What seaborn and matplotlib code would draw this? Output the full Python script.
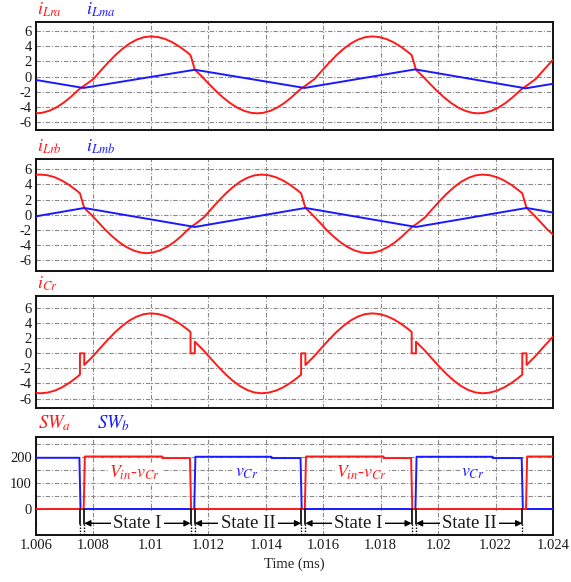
import matplotlib
matplotlib.use("Agg")
import matplotlib.pyplot as plt
import pandas as pd
import seaborn as sns

# ---------------- data ----------------
t_ilra = [1.006, 1.0062, 1.00645, 1.0067, 1.00695, 1.0072, 1.00745, 1.00753,
          1.00768, 1.008, 1.00825, 1.0085, 1.00875, 1.009, 1.00925, 1.0095, 1.00975, 1.01, 1.01025, 1.0105, 1.01075, 1.011, 1.01125, 1.01138,
          1.01153, 1.01175, 1.012, 1.01225, 1.0125, 1.01275, 1.013, 1.01325, 1.0135, 1.0137, 1.0139, 1.01415, 1.0144, 1.01465, 1.0149, 1.01515, 1.01523,
          1.01538, 1.0157, 1.01595, 1.0162, 1.01645, 1.0167, 1.01695, 1.0172, 1.01745, 1.0177, 1.01795, 1.0182, 1.01845, 1.0187, 1.01895, 1.01908,
          1.01923, 1.01945, 1.0197, 1.01995, 1.0202, 1.02045, 1.0207, 1.02095, 1.0212, 1.0214, 1.0216, 1.02185, 1.0221, 1.02235, 1.0226, 1.02285, 1.02293,
          1.02308, 1.0234, 1.02365, 1.0239, 1.024]
ilra = [-4.85, -4.79, -4.53, -4.09, -3.48, -2.72, -1.85, -1.6,
        -1.2, -0.32, 0.76, 1.80, 2.78, 3.63, 4.34, 4.86, 5.19, 5.30, 5.21, 4.95, 4.52, 3.94, 3.24, 2.83,
        0.9, 0.10, -0.89, -1.85, -2.72, -3.48, -4.09, -4.53, -4.79, -4.85, -4.79, -4.53, -4.09, -3.48, -2.72, -1.85, -1.6,
        -1.2, -0.32, 0.76, 1.80, 2.78, 3.63, 4.34, 4.86, 5.19, 5.30, 5.21, 4.95, 4.52, 3.94, 3.24, 2.83,
        0.9, 0.10, -0.89, -1.85, -2.72, -3.48, -4.09, -4.53, -4.79, -4.85, -4.79, -4.53, -4.09, -3.48, -2.72, -1.85, -1.6,
        -1.2, -0.32, 0.76, 1.80, 2.2]

t_ilma = [1.006, 1.00765, 1.01153, 1.01535, 1.0192, 1.02305, 1.024]
ilma = [-0.45, -1.5, 0.9, -1.5, 0.95, -1.55, -0.95]

t_ilrb = [1.006, 1.00615, 1.0064, 1.00665, 1.0069, 1.00715, 1.0074, 1.00753,
          1.00768, 1.0079, 1.00815, 1.0084, 1.00865, 1.0089, 1.00915, 1.0094, 1.00965, 1.00985, 1.01005, 1.0103, 1.01055, 1.0108, 1.01105, 1.0113, 1.01138,
          1.01153, 1.01185, 1.0121, 1.01235, 1.0126, 1.01285, 1.0131, 1.01335, 1.0136, 1.01385, 1.0141, 1.01435, 1.0146, 1.01485, 1.0151, 1.01523,
          1.01538, 1.0156, 1.01585, 1.0161, 1.01635, 1.0166, 1.01685, 1.0171, 1.01735, 1.01755, 1.01775, 1.018, 1.01825, 1.0185, 1.01875, 1.019, 1.01908,
          1.01923, 1.01955, 1.0198, 1.02005, 1.0203, 1.02055, 1.0208, 1.02105, 1.0213, 1.02155, 1.0218, 1.02205, 1.0223, 1.02255, 1.0228, 1.02293,
          1.02308, 1.0233, 1.02355, 1.0238, 1.024]
ilrb = [5.27, 5.30, 5.21, 4.95, 4.52, 3.94, 3.24, 2.83,
        0.9, 0.10, -0.89, -1.92, -2.83, -3.62, -4.25, -4.71, -4.98, -5.05, -4.98, -4.71, -4.25, -3.62, -2.83, -1.92, -1.65,
        -1.25, -0.32, 0.76, 1.80, 2.78, 3.63, 4.34, 4.86, 5.19, 5.30, 5.21, 4.95, 4.52, 3.94, 3.24, 2.83,
        0.9, 0.10, -0.89, -1.92, -2.83, -3.62, -4.25, -4.71, -4.98, -5.05, -4.98, -4.71, -4.25, -3.62, -2.83, -1.92, -1.65,
        -1.25, -0.32, 0.76, 1.80, 2.78, 3.63, 4.34, 4.86, 5.19, 5.30, 5.21, 4.95, 4.52, 3.94, 3.24, 2.83,
        0.9, 0.10, -0.89, -1.92, -2.6]

t_ilmb = [1.006, 1.00768, 1.01153, 1.01538, 1.01923, 1.02308, 1.024]
ilmb = [-0.2, 0.9, -1.6, 0.9, -1.6, 0.9, 0.3]

t_icr = [1.006, 1.00615, 1.0064, 1.00665, 1.0069, 1.00715, 1.0074, 1.00753, 1.00753, 1.00768,
         1.00768, 1.008, 1.00825, 1.0085, 1.00875, 1.009, 1.00925, 1.0095, 1.00975, 1.01, 1.01025, 1.0105, 1.01075, 1.011, 1.01125, 1.01138, 1.01138, 1.01153,
         1.01153, 1.01185, 1.0121, 1.01235, 1.0126, 1.01285, 1.0131, 1.01335, 1.0136, 1.01385, 1.0141, 1.01435, 1.0146, 1.01485, 1.0151, 1.01523, 1.01523, 1.01538,
         1.01538, 1.0157, 1.01595, 1.0162, 1.01645, 1.0167, 1.01695, 1.0172, 1.01745, 1.0177, 1.01795, 1.0182, 1.01845, 1.0187, 1.01895, 1.01908, 1.01908, 1.01923,
         1.01923, 1.01955, 1.0198, 1.02005, 1.0203, 1.02055, 1.0208, 1.02105, 1.0213, 1.02155, 1.0218, 1.02205, 1.0223, 1.02255, 1.0228, 1.02293, 1.02293, 1.02308,
         1.02308, 1.0234, 1.02365, 1.0239, 1.024]
icr = [-5.25, -5.30, -5.21, -4.95, -4.52, -3.94, -3.24, -2.83, 0, 0,
       -1.55, -0.32, 0.76, 1.80, 2.78, 3.63, 4.34, 4.86, 5.19, 5.30, 5.21, 4.95, 4.52, 3.94, 3.24, 2.83, 0, 0,
       1.55, 0.32, -0.76, -1.80, -2.78, -3.63, -4.34, -4.86, -5.19, -5.30, -5.21, -4.95, -4.52, -3.94, -3.24, -2.83, 0, 0,
       -1.55, -0.32, 0.76, 1.80, 2.78, 3.63, 4.34, 4.86, 5.19, 5.30, 5.21, 4.95, 4.52, 3.94, 3.24, 2.83, 0, 0,
       1.55, 0.32, -0.76, -1.80, -2.78, -3.63, -4.34, -4.86, -5.19, -5.30, -5.21, -4.95, -4.52, -3.94, -3.24, -2.83, 0, 0,
       -1.55, -0.32, 0.76, 1.80, 2.2]

t_swa = [1.006, 1.00766, 1.00770, 1.0104, 1.0104, 1.01136, 1.0114, 1.01536, 1.0154, 1.0181, 1.0181, 1.01906, 1.0191, 1.02306, 1.0231, 1.024]
swa = [0, 0, 202, 202, 196, 196, 0, 0, 202, 202, 196, 196, 0, 0, 202, 202]

t_swb = [1.006, 1.00751, 1.00755, 1.01151, 1.01155, 1.0142, 1.0142, 1.01521, 1.01525, 1.01921, 1.01925, 1.0219, 1.0219, 1.02291, 1.02295, 1.024]
swb = [197, 197, 0, 0, 201, 201, 196, 196, 0, 0, 201, 201, 196, 196, 0, 0]

xticks = [1.006, 1.008, 1.010, 1.012, 1.014, 1.016, 1.018, 1.020, 1.022, 1.024]
xtick_labels = ["1.006", "1.008", "1.01", "1.012", "1.014", "1.016", "1.018", "1.02", "1.022", "1.024"]
cur_ticks = [-6, -4, -2, 0, 2, 4, 6]
sw_ticks = [0, 50, 100, 150, 200, 250]
sw_tick_labels = ["0", "", "100", "", "200", ""]

transition_lines = [1.00753, 1.00768, 1.01138, 1.01153, 1.01523, 1.01538, 1.01908, 1.01923, 1.02293]
state_start = [1.00768, 1.01153, 1.01538, 1.01923]
state_end = [1.01138, 1.01523, 1.01908, 1.02293]
state_names = ["State I", "State II", "State I", "State II"]
vin_label_t = [1.00945, 1.01732]
vcr_label_t = [1.01335, 1.02122]

# ---------------- style ----------------
sns.set_theme(style="white")
plt.rcParams["font.family"] = ["Liberation Serif", "DejaVu Serif"]
plt.rcParams["mathtext.fontset"] = "stix"
plt.rcParams["axes.unicode_minus"] = False

RED = "#ff1a1a"
BLUE = "#1a1aff"
GRID_LS = (0, (4, 1.6, 1, 1.6))

fig = plt.figure(figsize=(5.71, 5.82), dpi=100)
L, W = 36 / 571, 517 / 571
def add_ax(top_px, bot_px):
    return fig.add_axes([L, 1 - bot_px / 582, W, (bot_px - top_px) / 582])

ax1 = add_ax(22, 130)
ax2 = add_ax(159, 271)
ax3 = add_ax(296, 408)
ax4 = add_ax(437, 535)


def line(ax, t, v, color, lw=1.4, z=3):
    df = pd.DataFrame({"t": t, "v": v})
    sns.lineplot(data=df, x="t", y="v", sort=False, estimator=None, color=color,
                 lw=lw, ax=ax, legend=False, zorder=z)


def style(ax, ylim, yticks, ylabels=None, show_x=False):
    ax.set_xlim(1.006, 1.024)
    ax.set_ylim(*ylim)
    ax.set_xticks(xticks)
    ax.set_yticks(yticks)
    if ylabels is not None:
        ax.set_yticklabels(ylabels)
    else:
        ax.set_yticklabels([str(v) for v in yticks])
    if show_x:
        ax.set_xticklabels(xtick_labels)
    else:
        ax.set_xticklabels([])
    ax.grid(True, linestyle=GRID_LS, color="#8a8a8a", lw=0.8)
    ax.set_axisbelow(True)
    ax.tick_params(length=0, labelsize=10.5, pad=3, colors="#1a1a1a")
    for s in ax.spines.values():
        s.set_color("#111111")
        s.set_linewidth(1.4)
    ax.set_xlabel("")
    ax.set_ylabel("")


# panel 1
line(ax1, t_ilra, ilra, RED)
line(ax1, t_ilma, ilma, BLUE)
style(ax1, (-7.05, 7.2), cur_ticks)
ax1.text(0.002, 1.03, r"$i_{Lra}$", color=RED, fontsize=13, transform=ax1.transAxes, va="bottom")
ax1.text(0.097, 1.03, r"$i_{Lma}$", color=BLUE, fontsize=13, transform=ax1.transAxes, va="bottom")

# panel 2
line(ax2, t_ilrb, ilrb, RED)
line(ax2, t_ilmb, ilmb, BLUE)
style(ax2, (-7.4, 7.35), cur_ticks)
ax2.text(0.002, 1.03, r"$i_{Lrb}$", color=RED, fontsize=13, transform=ax2.transAxes, va="bottom")
ax2.text(0.097, 1.03, r"$i_{Lmb}$", color=BLUE, fontsize=13, transform=ax2.transAxes, va="bottom")

# panel 3
line(ax3, t_icr, icr, RED)
style(ax3, (-7.25, 7.6), cur_ticks)
ax3.text(0.002, 1.03, r"$i_{Cr}$", color=RED, fontsize=13, transform=ax3.transAxes, va="bottom")

# panel 4
line(ax4, t_swb, swb, BLUE)
line(ax4, t_swa, swa, RED)
style(ax4, (-100, 277), sw_ticks, sw_tick_labels, show_x=True)
ax4.set_xlabel("Time (ms)", fontsize=10.5, labelpad=4)
ax4.text(0.004, 1.04, r"$SW_a$", color=RED, fontsize=13.5, transform=ax4.transAxes, va="bottom")
ax4.text(0.118, 1.04, r"$SW_b$", color=BLUE, fontsize=13.5, transform=ax4.transAxes, va="bottom")

for tl in transition_lines:
    ax4.plot([tl, tl], [0, -58], color="black", lw=1.2, zorder=4)
    ax4.plot([tl, tl], [-58, -100], color="black", lw=1.0, ls=(0, (1, 1.2)), zorder=4)

for a, b, name in zip(state_start, state_end, state_names):
    ax4.annotate("", xy=(a, -55), xytext=(b, -55),
                 arrowprops=dict(arrowstyle="<|-|>", color="black", lw=1.0,
                                 shrinkA=0, shrinkB=0, mutation_scale=9), zorder=5)
    ax4.text((a + b) / 2, -55, name, ha="center", va="center", fontsize=13.5,
             color="#1a1a1a", zorder=6, clip_on=False,
             bbox=dict(boxstyle="square,pad=0.12", fc="white", ec="none"))

for tx in vin_label_t:
    ax4.text(tx, 138, r"$V_{in}$-$v_{Cr}$", color=RED, fontsize=13, ha="center", va="center",
             bbox=dict(boxstyle="square,pad=0.05", fc="white", ec="none"), zorder=5)
for tx in vcr_label_t:
    ax4.text(tx, 142, r"$v_{Cr}$", color=BLUE, fontsize=13, ha="center", va="center",
             bbox=dict(boxstyle="square,pad=0.05", fc="white", ec="none"), zorder=5)

fig.savefig("out.png", dpi=100, facecolor="white")
